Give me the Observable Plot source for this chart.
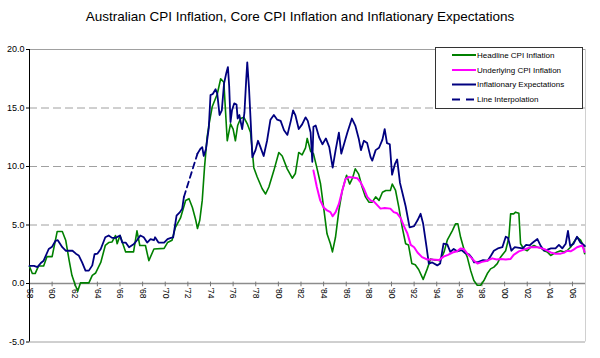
<!DOCTYPE html>
<html><head><meta charset="utf-8">
<script src="https://cdn.jsdelivr.net/npm/d3@7"></script>
<script src="https://cdn.jsdelivr.net/npm/@observablehq/plot@0.6"></script>
<style>
body{margin:0;background:#fff;font-family:"Liberation Sans",Arial,sans-serif;}
#wrap{position:relative;width:600px;height:358px;overflow:hidden;}
#title{position:absolute;left:0;top:9px;width:600px;text-align:center;font-size:13.5px;line-height:16px;color:#000;}
#chart{position:absolute;left:0;top:30px;}
#legend{position:absolute;left:435px;top:47px;}
</style></head>
<body>
<div id="wrap">
<div id="title">Australian CPI Inflation, Core CPI Inflation and Inflationary Expectations</div>
<div id="chart"></div>
<div id="legend"></div>
</div>
<script>
const seriesNames = ["Headline CPI Inflation","Underlying CPI Inflation","Inflationary Expectations","Line Interpolation"];
const xTicks = [1958,1960,1962,1964,1966,1968,1970,1972,1974,1976,1978,1980,1982,1984,1986,1988,1990,1992,1994,1996,1998,2000,2002,2004,2006];
const yTicks = [-5,0,5,10,15,20];
const yGrid = [5,10,15];

const headline = [
[1958.0,1.45],[1958.25,0.85],[1958.5,0.85],[1958.8,1.5],[1959.25,1.5],[1959.55,2.3],[1960.0,2.3],[1960.45,4.45],[1960.9,4.45],
[1961.2,3.7],[1961.5,2.0],[1961.75,0.7],[1962.05,-0.15],[1962.27,-0.65],[1962.5,0.05],[1963.25,0.05],[1963.55,0.7],[1963.85,0.9],
[1964.3,1.8],[1964.7,3.25],[1965.0,3.5],[1965.3,3.55],[1965.6,4.1],[1965.75,3.4],[1966.0,4.1],[1966.5,2.7],[1967.2,2.7],[1967.5,4.5],
[1967.75,3.25],[1968.25,3.25],[1968.55,1.95],[1969.0,2.95],[1969.9,3.0],[1970.2,3.5],[1970.6,3.7],[1970.9,4.8],[1971.35,5.6],
[1971.8,7.1],[1972.1,7.25],[1972.4,6.5],[1972.7,5.4],[1972.85,4.7],[1973.05,5.4],[1973.27,7.1],[1973.47,9.9],[1973.7,12.5],
[1973.85,13.5],[1974.15,15.1],[1974.6,16.2],[1974.9,17.5],[1975.18,17.2],[1975.48,12.2],[1975.77,13.65],[1976.0,13.2],[1976.2,12.2],
[1976.4,13.5],[1976.66,14.1],[1976.95,14.2],[1977.25,13.65],[1977.54,12.9],[1977.69,11.4],[1977.83,9.9],[1978.13,9.1],[1978.57,8.1],
[1978.87,7.65],[1979.16,8.25],[1979.6,9.65],[1980.04,11.2],[1980.34,10.9],[1980.78,9.8],[1981.23,9.0],[1981.5,9.4],[1981.8,11.2],
[1982.1,11.0],[1982.4,11.6],[1982.55,12.4],[1982.85,11.3],[1983.1,11.1],[1983.4,9.9],[1983.73,8.5],[1984.0,6.5],[1984.3,4.25],
[1984.6,3.4],[1984.78,2.7],[1985.05,3.95],[1985.35,6.25],[1985.65,7.95],[1986.03,9.25],[1986.3,8.5],[1986.55,9.0],[1986.8,9.8],
[1987.1,9.35],[1987.4,8.25],[1987.7,7.4],[1988.0,6.95],[1988.3,6.95],[1988.6,7.4],[1988.9,7.1],[1989.2,7.8],[1989.5,7.95],
[1989.9,7.95],[1990.07,8.5],[1990.36,7.95],[1990.65,6.5],[1990.95,4.8],[1991.25,3.4],[1991.5,3.3],[1991.8,1.7],[1992.1,1.6],
[1992.4,1.2],[1992.8,0.35],[1993.16,1.25],[1993.46,2.1],[1993.8,2.0],[1994.05,2.0],[1994.3,1.95],[1994.65,2.7],[1994.93,3.7],
[1995.37,4.5],[1995.66,5.1],[1995.87,5.1],[1996.11,3.95],[1996.4,2.95],[1996.7,2.25],[1997.0,1.1],[1997.28,0.25],[1997.58,-0.15],
[1997.88,-0.15],[1998.17,0.25],[1998.47,0.85],[1998.76,1.25],[1999.05,1.4],[1999.35,1.7],[1999.64,2.25],[2000.09,2.8],[2000.38,3.95],
[2000.53,5.95],[2000.8,5.95],[2000.97,6.1],[2001.26,6.0],[2001.41,3.4],[2001.7,2.95],[2002.0,2.8],[2002.3,3.1],[2002.6,3.25],
[2002.9,3.1],[2003.18,3.05],[2003.5,2.8],[2003.77,2.7],[2004.07,2.4],[2004.36,2.55],[2004.65,2.7],[2004.95,2.8],[2005.24,2.7],
[2005.5,2.8],[2005.83,3.1],[2006.1,3.5],[2006.42,3.95],[2006.72,3.7],[2006.95,3.25],[2007.07,2.55]
];

const underlying = [
[1983.1,9.65],[1983.4,8.25],[1983.7,7.1],[1984.0,6.5],[1984.3,6.25],[1984.6,6.1],[1984.8,5.75],[1985.06,6.1],[1985.35,6.8],
[1985.65,7.95],[1985.94,8.95],[1986.2,9.1],[1986.6,9.05],[1986.97,9.0],[1987.27,8.65],[1987.56,8.1],[1987.86,7.4],[1988.15,7.1],
[1988.45,7.0],[1988.74,6.7],[1989.03,6.4],[1989.4,6.45],[1989.9,6.4],[1990.2,6.1],[1990.5,6.0],[1990.8,5.6],[1991.1,4.9],
[1991.4,4.3],[1991.7,3.3],[1992.0,3.1],[1992.3,2.65],[1992.7,2.25],[1993.16,2.05],[1993.6,2.05],[1994.2,2.0],[1994.6,2.3],
[1995.0,2.45],[1995.4,2.65],[1995.8,2.75],[1996.1,3.0],[1996.4,2.95],[1996.7,2.55],[1997.0,2.25],[1997.3,1.95],[1997.6,1.7],
[1998.0,1.85],[1998.47,1.95],[1998.9,2.15],[1999.3,2.05],[1999.64,2.1],[2000.1,2.05],[2000.53,2.1],[2000.8,2.45],[2001.26,2.75],
[2001.7,2.9],[2002.3,3.1],[2002.9,3.1],[2003.3,3.0],[2003.6,2.9],[2004.07,2.65],[2004.5,2.55],[2004.95,2.55],[2005.3,2.65],
[2005.54,2.8],[2005.83,2.75],[2006.1,2.9],[2006.4,3.1],[2006.86,3.25],[2007.07,2.7]
];

const expectationsEarly = [
[1958.0,1.5],[1958.4,1.5],[1958.7,1.4],[1959.0,1.75],[1959.25,1.95],[1959.7,2.95],[1960.0,3.15],[1960.3,3.65],[1960.5,3.7],
[1960.9,3.1],[1961.2,2.8],[1961.8,2.8],[1962.1,2.55],[1962.35,2.4],[1962.65,1.8],[1962.95,1.1],[1963.25,1.1],[1963.55,1.55],
[1963.75,2.5],[1964.0,2.55],[1964.3,2.95],[1964.7,3.95],[1965.0,4.1],[1965.3,3.9],[1965.6,3.9],[1966.0,4.1],[1966.2,3.5],
[1966.5,3.5],[1966.8,3.1],[1967.2,3.35],[1967.5,3.7],[1967.8,4.1],[1968.1,3.95],[1968.4,3.5],[1968.7,3.8],[1969.0,3.7],
[1969.1,3.95],[1969.4,3.5],[1969.9,3.5],[1970.2,3.8],[1970.5,3.9],[1970.7,3.95],[1971.0,5.8],[1971.3,6.1],[1971.5,6.4],[1971.65,7.4]
];

const expectationsLate = [
[1972.85,11.1],[1973.1,11.5],[1973.27,11.65],[1973.4,10.9],[1973.6,11.5],[1973.85,13.3],[1974.0,16.1],[1974.2,16.2],[1974.45,16.6],
[1974.6,16.2],[1974.8,14.4],[1975.0,14.8],[1975.2,17.1],[1975.4,18.0],[1975.54,18.5],[1975.65,16.9],[1975.77,13.8],[1975.9,14.8],
[1976.1,15.4],[1976.3,15.3],[1976.4,14.1],[1976.55,14.4],[1976.8,13.2],[1977.0,14.6],[1977.15,17.3],[1977.25,18.9],[1977.4,16.8],
[1977.55,13.9],[1977.7,10.8],[1977.98,11.4],[1978.2,12.2],[1978.4,11.7],[1978.7,10.9],[1979.0,12.2],[1979.3,14.0],[1979.6,14.4],
[1979.9,14.0],[1980.2,13.9],[1980.5,13.1],[1980.8,12.7],[1981.1,13.9],[1981.3,14.8],[1981.5,14.4],[1981.8,13.2],[1982.1,13.6],
[1982.4,14.2],[1982.6,13.9],[1982.85,12.9],[1983.0,10.4],[1983.1,13.4],[1983.3,13.5],[1983.6,12.5],[1983.9,11.9],[1984.2,12.4],
[1984.5,11.65],[1984.8,9.9],[1985.06,11.4],[1985.35,12.9],[1985.56,11.1],[1985.8,11.9],[1986.1,12.9],[1986.5,14.1],[1986.8,13.5],
[1987.1,12.4],[1987.3,11.4],[1987.56,12.2],[1987.85,12.0],[1988.15,10.8],[1988.3,10.5],[1988.6,11.4],[1988.9,11.6],[1989.2,12.3],
[1989.4,13.2],[1989.6,12.0],[1989.85,11.9],[1990.05,9.3],[1990.3,10.2],[1990.5,10.6],[1990.75,8.6],[1991.0,7.6],[1991.25,6.6],
[1991.6,4.8],[1992.0,4.9],[1992.3,5.4],[1992.57,5.96],[1992.8,5.1],[1993.1,3.1],[1993.3,1.7],[1993.6,1.8],[1994.05,1.55],
[1994.3,1.7],[1994.6,3.4],[1994.93,3.35],[1995.2,2.7],[1995.5,2.95],[1995.8,2.75],[1996.2,2.85],[1996.5,2.6],[1996.85,2.5],
[1997.1,2.2],[1997.3,1.8],[1997.7,1.85],[1998.1,2.0],[1998.5,1.95],[1998.8,2.4],[1999.05,2.8],[1999.4,3.0],[1999.8,3.1],
[2000.1,4.0],[2000.3,3.9],[2000.6,2.8],[2000.9,3.1],[2001.3,3.05],[2001.6,3.0],[2001.9,3.3],[2002.2,3.25],[2002.5,3.5],
[2002.9,3.8],[2003.2,3.2],[2003.5,2.8],[2003.8,2.9],[2004.1,3.0],[2004.5,3.0],[2004.8,3.3],[2005.1,3.0],[2005.4,3.4],
[2005.6,4.5],[2005.8,3.2],[2006.1,3.4],[2006.4,4.0],[2006.7,3.5],[2007.0,3.3],[2007.1,3.2]
];

const interpolation = [[1971.65,7.4],[1972.85,11.1]];

const colors = {headline:"#008000", underlying:"#ff00ff", expect:"#000080"};
const xEnd = 2007.15;

const chart = Plot.plot({
  width: 600, height: 328,
  marginTop: 19, marginBottom: 16.5, marginLeft: 29, marginRight: 15,
  style: {fontFamily: "'Liberation Sans', Arial, sans-serif", background: "transparent"},
  x: {domain: [1958, xEnd], axis: null},
  y: {domain: [-5, 20], axis: null},
  marks: [
    Plot.ruleY(yGrid, {stroke: "#a0a0a0", strokeDasharray: "8,4"}),
    Plot.ruleY([20, -5], {stroke: "#a0a0a0"}),
    Plot.ruleX([xEnd], {stroke: "#d0d0d0"}),
    Plot.ruleY([0], {stroke: "#8c8c8c", strokeWidth: 1.6}),
    Plot.ruleX(xTicks, {y1: 0.12, y2: -0.28, stroke: "#777"}),
    Plot.text(xTicks, {x: d => d, y: 0, text: d => "'" + String(d).slice(2), rotate: 90, textAnchor: "start", dy: 4, fontSize: 8.5, fill: "#000"}),
    Plot.ruleX([1958], {stroke: "#000"}),
    Plot.axisY(yTicks, {tickFormat: d => d.toFixed(1), tickSize: 3, tickPadding: 2, fontSize: 9, color: "#000"}),
    Plot.line(headline, {x: d => d[0], y: d => d[1], stroke: colors.headline, strokeWidth: 1.6}),
    Plot.line(expectationsEarly, {x: d => d[0], y: d => d[1], stroke: colors.expect, strokeWidth: 1.8}),
    Plot.line(expectationsLate, {x: d => d[0], y: d => d[1], stroke: colors.expect, strokeWidth: 1.8}),
    Plot.line(interpolation, {x: d => d[0], y: d => d[1], stroke: colors.expect, strokeWidth: 1.8, strokeDasharray: "6,4"}),
    Plot.line(underlying, {x: d => d[0], y: d => d[1], stroke: colors.underlying, strokeWidth: 2})
  ]
});
document.getElementById("chart").appendChild(chart);

// legend
const legendItems = [
  {name: seriesNames[0], color: colors.headline, dash: null},
  {name: seriesNames[1], color: colors.underlying, dash: null},
  {name: seriesNames[2], color: colors.expect, dash: null},
  {name: seriesNames[3], color: colors.expect, dash: "8,6"}
];
const rowY = [8, 23, 37.5, 52.5];
const ns = "http://www.w3.org/2000/svg";
const lg = document.createElementNS(ns, "svg");
lg.setAttribute("width", 148); lg.setAttribute("height", 62);
lg.style.fontFamily = "'Liberation Sans', Arial, sans-serif";
const box = document.createElementNS(ns, "rect");
box.setAttribute("x", 0.5); box.setAttribute("y", 0.5); box.setAttribute("width", 147); box.setAttribute("height", 61);
box.setAttribute("fill", "#fff"); box.setAttribute("stroke", "#333");
lg.appendChild(box);
legendItems.forEach((it, i) => {
  const l = document.createElementNS(ns, "line");
  l.setAttribute("x1", 17); l.setAttribute("x2", 41);
  l.setAttribute("y1", rowY[i]); l.setAttribute("y2", rowY[i]);
  l.setAttribute("stroke", it.color); l.setAttribute("stroke-width", 2);
  if (it.dash) l.setAttribute("stroke-dasharray", it.dash);
  lg.appendChild(l);
  const t = document.createElementNS(ns, "text");
  t.setAttribute("x", 42); t.setAttribute("y", rowY[i]);
  t.setAttribute("dy", "0.35em");
  t.setAttribute("font-size", 8);
  t.textContent = it.name;
  lg.appendChild(t);
});
document.getElementById("legend").appendChild(lg);
</script>
</body></html>
